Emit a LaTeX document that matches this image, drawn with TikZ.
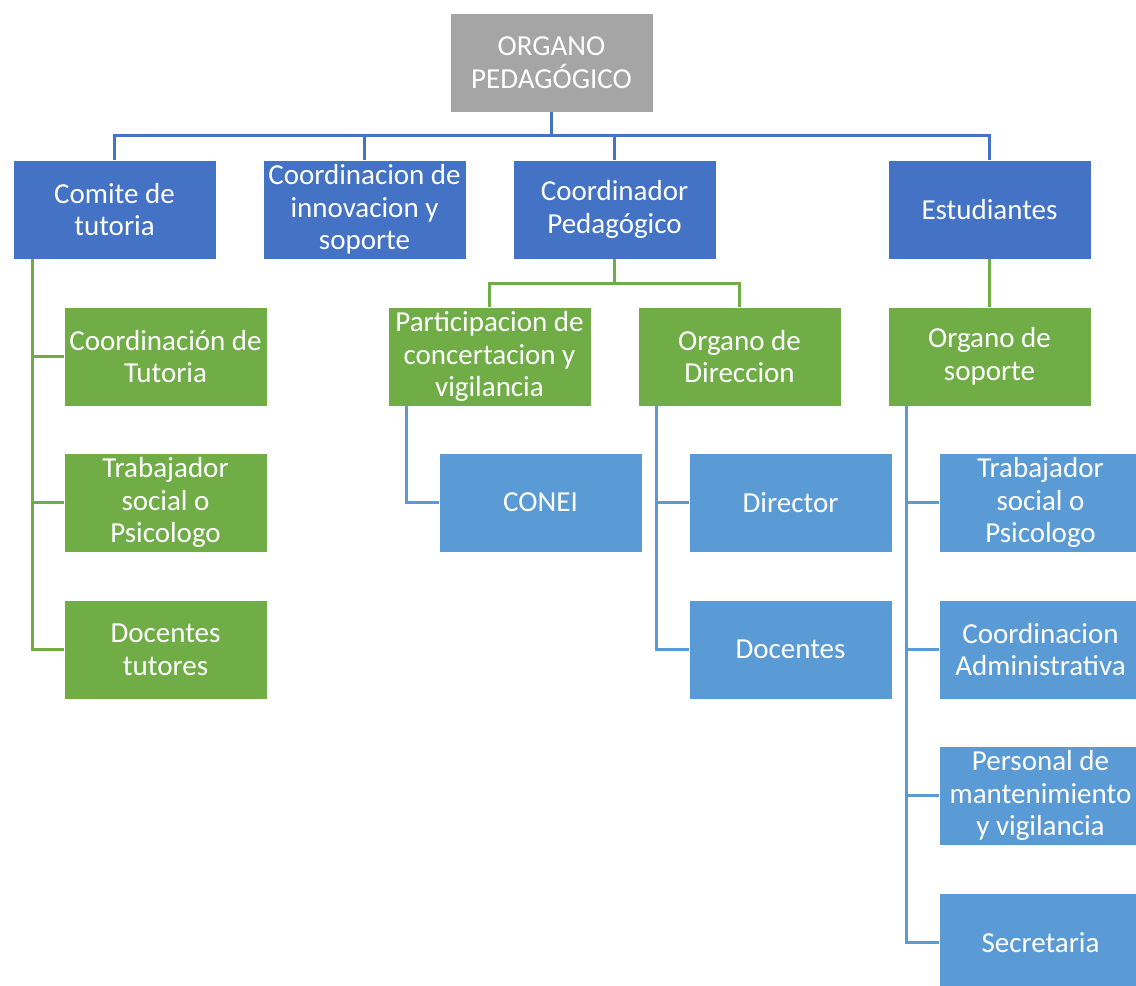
\documentclass[tikz,border=0pt]{standalone}
\usepackage{fontspec}
\setmainfont{Carlito}
\usetikzlibrary{positioning}
\definecolor{gris}{HTML}{A5A5A5}
\definecolor{azul}{HTML}{4472C4}
\definecolor{verde}{HTML}{70AD47}
\definecolor{celeste}{HTML}{5B9BD5}
\tikzset{
	box/.style = {
		align=flush center,
		inner sep=0pt,
		text=white,
		font=\fontsize{16.5}{18.6}\selectfont,
		draw=white,
		line width=0.4pt,
		minimum width=4.06cm,
		minimum height=1.98cm,
		text width=4cm
	},
	box_gray/.style = {
		box,
		fill=gris
	},
	box_blue/.style = {
		box,
		fill=azul
	},
	box_green/.style = {
		box,
		fill=verde
	},
	box_light/.style = {
		box,
		fill=celeste
	},
	link_blue/.style = {
		draw=azul,
		line width=1.7pt
	},
	link_green/.style = {
		draw=verde,
		line width=1.7pt
	},
	link_light/.style = {
		draw=celeste,
		line width=1.7pt
	},
}

\begin{document}
\begin{tikzpicture}[x=0.02cm,y=-0.02cm]
\useasboundingbox (0,0) rectangle (1136,986);

% nivel superior
\node [box_gray] (organo) at (551.5,62.5) {ORGANO\\PEDAGÓGICO};

% primer nivel
\node [box_blue] (comite) at (114.5,209.5) {Comite de\\tutoria};
\node [box_blue] (innova) at (364.5,209.5) {Coordinacion de\\innovacion y\\soporte};
\node [box_blue] (coord) at (614.5,209.5) {Coordinador\\Pedagógico};
\node [box_blue] (estud) at (989.5,209.5) {Estudiantes};

% segundo nivel
\node [box_green] (tut_a) at (165.5,356.5) {Coordinación de\\Tutoria};
\node [box_green] (tut_b) at (165.5,502.5) {Trabajador\\social o\\Psicologo};
\node [box_green] (tut_c) at (165.5,649.5) {Docentes\\tutores};
\node [box_green] (partic) at (489.5,356.5) {Participacion de\\concertacion y\\vigilancia};
\node [box_green] (direc) at (739.5,356.5) {Organo de\\Direccion};
\node [box_green] (soporte) at (989.5,356.5) {Organo de\\soporte};

% tercer nivel
\node [box_light] (conei) at (540.5,502.5) {CONEI};
\node [box_light] (director) at (790.5,502.5) {Director};
\node [box_light] (docentes) at (790.5,649.5) {Docentes};
\node [box_light] (sop_a) at (1040.5,502.5) {Trabajador\\social o\\Psicologo};
\node [box_light] (sop_b) at (1040.5,649.5) {Coordinacion\\Administrativa};
\node [box_light] (sop_c) at (1040.5,795.5) {Personal de\\mantenimiento\\y vigilancia};
\node [box_light] (sop_d) at (1040.5,942.5) {Secretaria};

% conectores
\foreach \n in {comite,innova,coord,estud}
	\draw [link_blue] (organo.south) -- ++(0,23) -| (\n.north);

\draw [link_green] ([xshift=0.4cm]comite.south west) |- (tut_c.west);
\foreach \n in {tut_a,tut_b}
	\draw [link_green] ([xshift=0.4cm]comite.south west) |- (\n.west);

\foreach \n in {partic,direc}
	\draw [link_green] (coord.south) -- ++(0,24) -| (\n.north);
\draw [link_green] (estud) -- (soporte);

\draw [link_light] ([xshift=0.38cm]partic.south west) |- (conei.west);
\foreach \n in {director,docentes}
	\draw [link_light] ([xshift=0.38cm]direc.south west) |- (\n.west);
\foreach \n in {sop_a,sop_b,sop_c,sop_d}
	\draw [link_light] ([xshift=0.38cm]soporte.south west) |- (\n.west);
\end{tikzpicture}
\end{document}
